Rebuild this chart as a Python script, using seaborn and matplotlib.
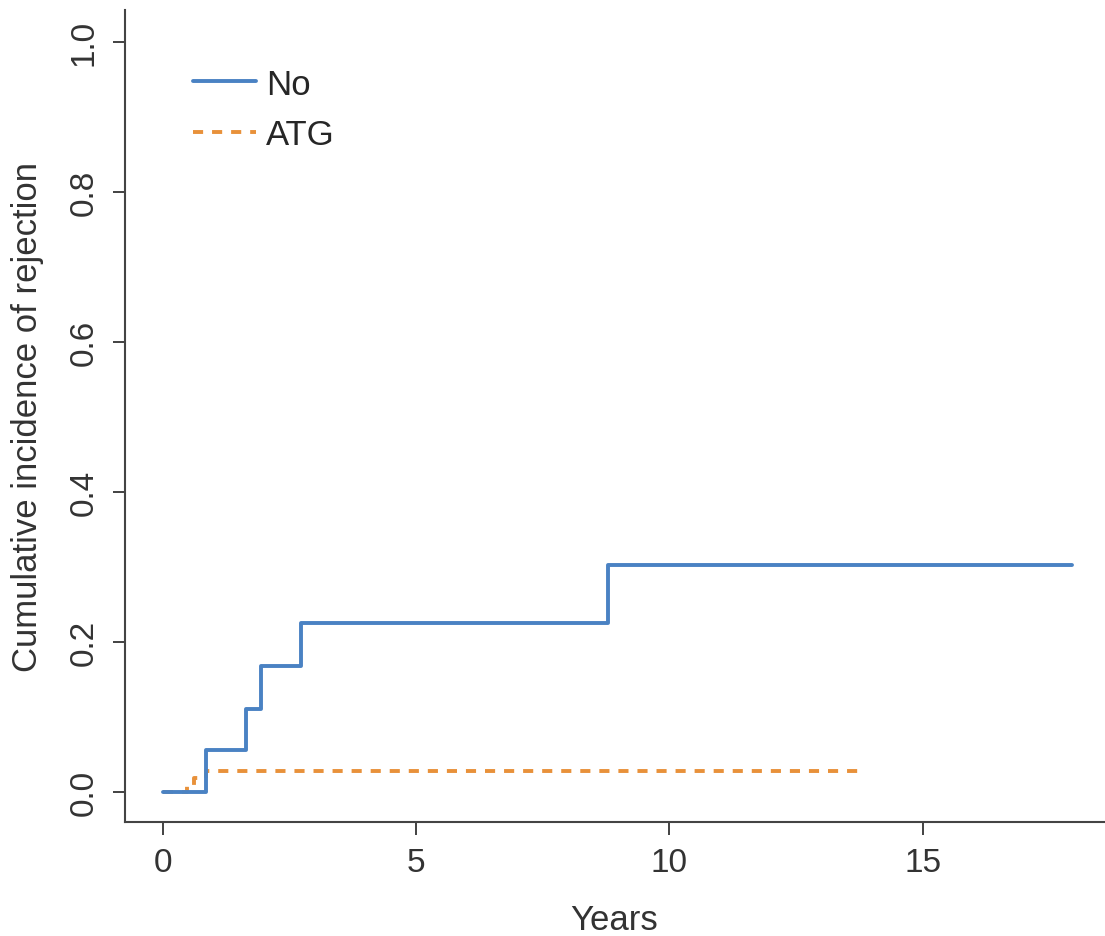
import pandas as pd
import numpy as np
import matplotlib
matplotlib.use("Agg")
import matplotlib.pyplot as plt
import seaborn as sns

# ---------------- data ----------------
no_years = [0.0, 0.85, 1.64, 1.93, 2.73, 8.78, 17.95]
no_cuminc = [0.0, 0.056, 0.111, 0.168, 0.225, 0.302, 0.302]

atg_years = [0.0, 0.47, 0.62, 0.85, 13.8]
atg_cuminc = [0.0, 0.009, 0.018, 0.028, 0.028]

groups = ["No", "ATG"]

df = pd.concat([
    pd.DataFrame({"years": no_years, "cuminc": no_cuminc, "group": "No"}),
    pd.DataFrame({"years": atg_years, "cuminc": atg_cuminc, "group": "ATG"}),
], ignore_index=True)

# ---------------- plot ----------------
sns.set_style("ticks")
plt.rcParams["font.family"] = ["Liberation Sans", "DejaVu Sans"]

fig = plt.figure(figsize=(11.05, 9.37), dpi=100)
ax = fig.add_axes([0.113, 0.1217, 0.886, 0.867])

lw = 2.8
sns.lineplot(data=df, x="years", y="cuminc", hue="group", style="group",
             hue_order=groups, style_order=groups,
             palette={"No": "#4a82c3", "ATG": "#e8913a"},
             dashes={"No": "", "ATG": (2.6, 2.3)},
             drawstyle="steps-post", estimator=None, sort=False,
             linewidth=lw, ax=ax)

# ATG curve sits under the No curve
ax.lines[0].set_zorder(3)
ax.lines[1].set_zorder(2)

ax.set_xlim(-0.75, 18.58)
ax.set_ylim(-0.04, 1.043)
ax.set_xticks([0, 5, 10, 15])
ax.set_yticks([0.0, 0.2, 0.4, 0.6, 0.8, 1.0])
ax.set_yticklabels(["0.0", "0.2", "0.4", "0.6", "0.8", "1.0"], rotation=90, va="center")
ax.tick_params(axis="both", direction="out", length=9, width=1.3, labelsize=24,
               colors="#333333", labelcolor="#333333", pad=9)
sns.despine(ax=ax)
for s in ["left", "bottom"]:
    ax.spines[s].set_linewidth(1.5)
    ax.spines[s].set_color("#444444")

ax.set_xlabel("Years", fontsize=25, color="#333333", labelpad=18)
ax.set_ylabel("Cumulative incidence of rejection", fontsize=25, color="#333333", labelpad=18)

leg = ax.legend(title=None, loc="upper left", bbox_to_anchor=(0.038, 0.967), frameon=False,
                fontsize=25, handlelength=1.8, handletextpad=0.3, labelspacing=0.5)
for h in leg.get_lines():
    h.set_linewidth(lw)

fig.savefig("out.png", dpi=100, facecolor="white")
